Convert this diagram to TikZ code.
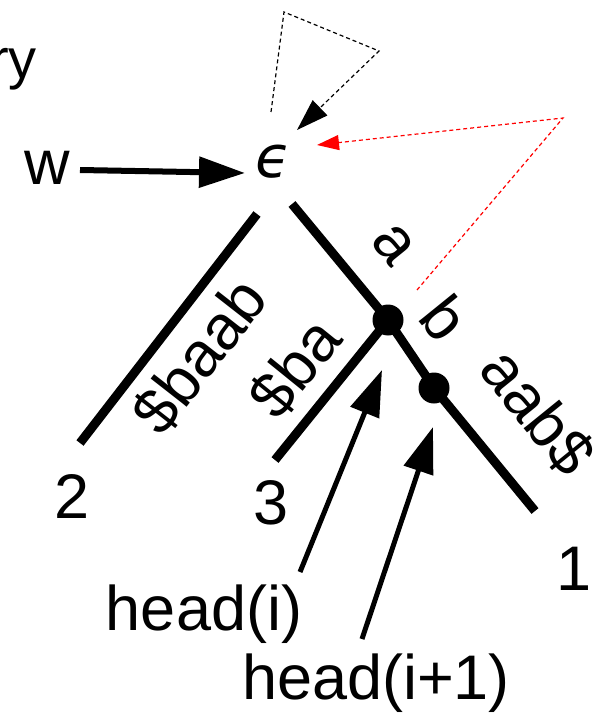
\documentclass[tikz,border=0pt]{standalone}
\usepackage{fontspec}
\setmainfont{Liberation Sans}
\newfontfamily\epsfont{DejaVu Sans}
\usetikzlibrary{arrows.meta}
\begin{document}
\begin{tikzpicture}[x=1pt,y=-1pt,
  lbl/.style={inner sep=0pt, font=\fontsize{63}{63}\selectfont},
  treeedge/.style={line width=9pt},
  dot/.style={circle, fill=black, minimum size=31pt, inner sep=0pt},
  bigarrow/.style={line width=5pt, -{Triangle[length=46pt,width=30pt]}},
  dashblack/.style={line width=1.2pt, dash pattern=on 4pt off 3pt},
  dashred/.style={line width=1.2pt, red, dash pattern=on 4pt off 3pt},
]
\useasboundingbox (0,0) rectangle (607,714);

% texts
\node[lbl, anchor=base east, font=\fontsize{56}{56}\selectfont] (ry) at (37,79) {ry};
\node[lbl, anchor=base] (w) at (47.5,185) {w};
\node[inner sep=0pt, font=\fontsize{58}{58}\epsfont\itshape] (eps) at (273,162) {ϵ};

% input arrow
\coordinate (wS) at (80,170);
\coordinate (wT) at (245,173);
\draw[bigarrow, line width=6pt] (wS) -- (wT);

% tree
\coordinate (eR) at (292,204);
\coordinate (eL) at (257,214);
\node[dot] (n1) at (388,320) {};
\node[dot] (n2) at (434,388) {};
\coordinate (l2) at (80,443);
\coordinate (l3) at (275,460);
\coordinate (l1) at (535,511);
\draw[treeedge] (eL) -- (l2);
\draw[treeedge] (eR) -- (n1.center) -- (n2.center) -- (l1);
\draw[treeedge] (n1.center) -- (l3);

% edge labels
\node[lbl, rotate=52] (lbaab) at (200,356) {\$baab};
\node[lbl, rotate=51] (lba) at (295,368) {\$ba};
\node[lbl, rotate=-51] (la) at (393,245) {a};
\node[lbl, rotate=-51] (lb) at (445,318) {b};
\node[lbl, rotate=-51] (laab) at (538,412) {aab\$};

% leaf labels
\node[lbl, anchor=base] (t2) at (72,518) {2};
\node[lbl, anchor=base] (t3) at (271,524) {3};
\node[lbl, anchor=base] (t1) at (574,590) {1};
\node[lbl, anchor=base] (hi) at (204,630) {head(i)};
\node[lbl, anchor=base] (hi1) at (376,699) {head(i+1)};

% head arrows
\coordinate (hiS) at (300,572);
\coordinate (hiT) at (382,370);
\coordinate (hjS) at (362,639);
\coordinate (hjT) at (433,427);
\draw[bigarrow] (hiS) -- (hiT);
\draw[bigarrow] (hjS) -- (hjT);

% dashed suffix links
\coordinate (bA) at (271,112);
\coordinate (bB) at (284,12);
\coordinate (bC) at (379,51);
\coordinate (bT) at (297,130);
\draw[dashblack, -{Triangle[length=32pt,width=21pt]}] (bA) -- (bB) -- (bC) -- (bT);

\coordinate (rA) at (417,290);
\coordinate (rB) at (563,118);
\coordinate (rT) at (317,145);
\draw[dashred, -{Triangle[length=22pt,width=15pt]}] (rA) -- (rB) -- (rT);
\end{tikzpicture}
\end{document}
